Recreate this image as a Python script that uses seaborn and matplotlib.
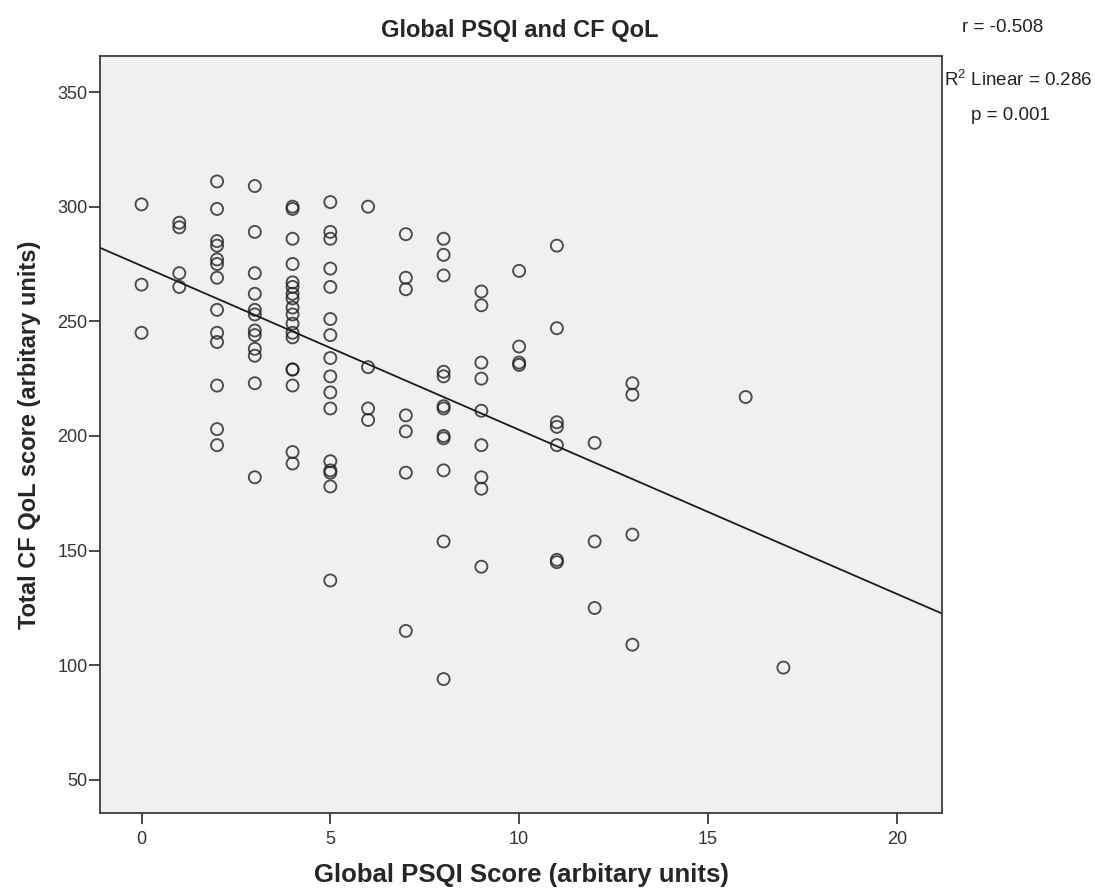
import numpy as np
import pandas as pd
import matplotlib
matplotlib.use("Agg")
import matplotlib.pyplot as plt
import seaborn as sns

# ---- data: Total CF QoL score for each Global PSQI score ----
qol_psqi0 = [301, 266, 245]
qol_psqi1 = [293, 291, 271, 265]
qol_psqi2 = [311, 299, 285, 283, 277, 275, 269, 255, 245, 241, 222, 203, 196]
qol_psqi3 = [309, 289, 271, 262, 255, 253, 246, 244, 238, 235, 223, 182]
qol_psqi4 = [300, 299, 286, 275, 267, 265, 262, 260, 256, 253, 249, 245, 243, 229, 229, 222, 193, 188]
qol_psqi5 = [302, 289, 286, 273, 265, 251, 244, 234, 226, 219, 212, 189, 185, 184, 178, 137]
qol_psqi6 = [300, 230, 212, 207]
qol_psqi7 = [288, 269, 264, 209, 202, 184, 115]
qol_psqi8 = [286, 279, 270, 228, 226, 213, 212, 200, 199, 185, 154, 94]
qol_psqi9 = [263, 257, 232, 225, 211, 196, 182, 177, 143]
qol_psqi10 = [272, 239, 232, 231]
qol_psqi11 = [283, 247, 206, 204, 196, 146, 145]
qol_psqi12 = [197, 154, 125]
qol_psqi13 = [223, 218, 157, 109]
qol_psqi16 = [217]
qol_psqi17 = [99]

groups = {0: qol_psqi0, 1: qol_psqi1, 2: qol_psqi2, 3: qol_psqi3, 4: qol_psqi4,
          5: qol_psqi5, 6: qol_psqi6, 7: qol_psqi7, 8: qol_psqi8, 9: qol_psqi9,
          10: qol_psqi10, 11: qol_psqi11, 12: qol_psqi12, 13: qol_psqi13,
          16: qol_psqi16, 17: qol_psqi17}

x_ticks = [0, 5, 10, 15, 20]
y_ticks = [50, 100, 150, 200, 250, 300, 350]

title = "Global PSQI and CF QoL"
x_label = "Global PSQI Score (arbitary units)"
y_label = "Total CF QoL score (arbitary units)"
stat_r = "r = -0.508"
stat_r2 = "R$^2$ Linear = 0.286"
stat_p = "p = 0.001"

rows = [(k, v) for k, vals in groups.items() for v in vals]
df = pd.DataFrame(rows, columns=["psqi", "qol"])

# ---- styling ----
sns.set_style("white")
plt.rcParams['font.family'] = ['Liberation Sans', 'DejaVu Sans']
plt.rcParams['mathtext.fontset'] = 'custom'
plt.rcParams['mathtext.rm'] = 'Liberation Sans'

fig = plt.figure(figsize=(10.95, 8.93), dpi=100)
ax = fig.add_axes([100 / 1095, 80 / 893, 842 / 1095, 757 / 893])
ax.set_facecolor("#f0f0f0")

ax.set_xlim(-1.1, 21.2)
ax.set_ylim(35.6, 365.7)

sns.regplot(data=df, x="psqi", y="qol", ax=ax, ci=None, truncate=False,
            scatter_kws=dict(s=75, facecolors="none", edgecolors="#222222", linewidths=1.35),
            line_kws=dict(color="#1a1a1a", linewidth=1.3))

ax.set_xlim(-1.1, 21.2)
ax.set_ylim(35.6, 365.7)
ax.set_xticks(x_ticks)
ax.set_yticks(y_ticks)

for side in ["left", "bottom", "top", "right"]:
    ax.spines[side].set_color("#3c3c3c")
    ax.spines[side].set_linewidth(1.3)
    ax.spines[side].set_visible(True)

ax.tick_params(axis="both", which="major", direction="out", length=8, width=1.3,
               color="#3c3c3c", labelcolor="#333333", labelsize=13)
ax.tick_params(axis="y", pad=1)
ax.tick_params(axis="x", pad=5)
ax.tick_params(top=False, right=False, bottom=True, left=True)

ax.set_xlabel(x_label, fontsize=18.5, fontweight="bold", labelpad=11)
ax.set_ylabel(y_label, fontsize=17, fontweight="bold", labelpad=12)

fig.text(520 / 1095, 1 - 31 / 893, title, ha="center", va="center",
         fontsize=17, fontweight="bold")

fig.text(1003 / 1095, 1 - 28 / 893, stat_r, ha="center", va="center", fontsize=13.5, color="#222222")
fig.text(1018 / 1095, 1 - 80 / 893, stat_r2, ha="center", va="center", fontsize=13.5, color="#222222")
fig.text(1010 / 1095, 1 - 115 / 893, stat_p, ha="center", va="center", fontsize=13.5, color="#222222")

fig.savefig("out.png", dpi=100, facecolor="white")
